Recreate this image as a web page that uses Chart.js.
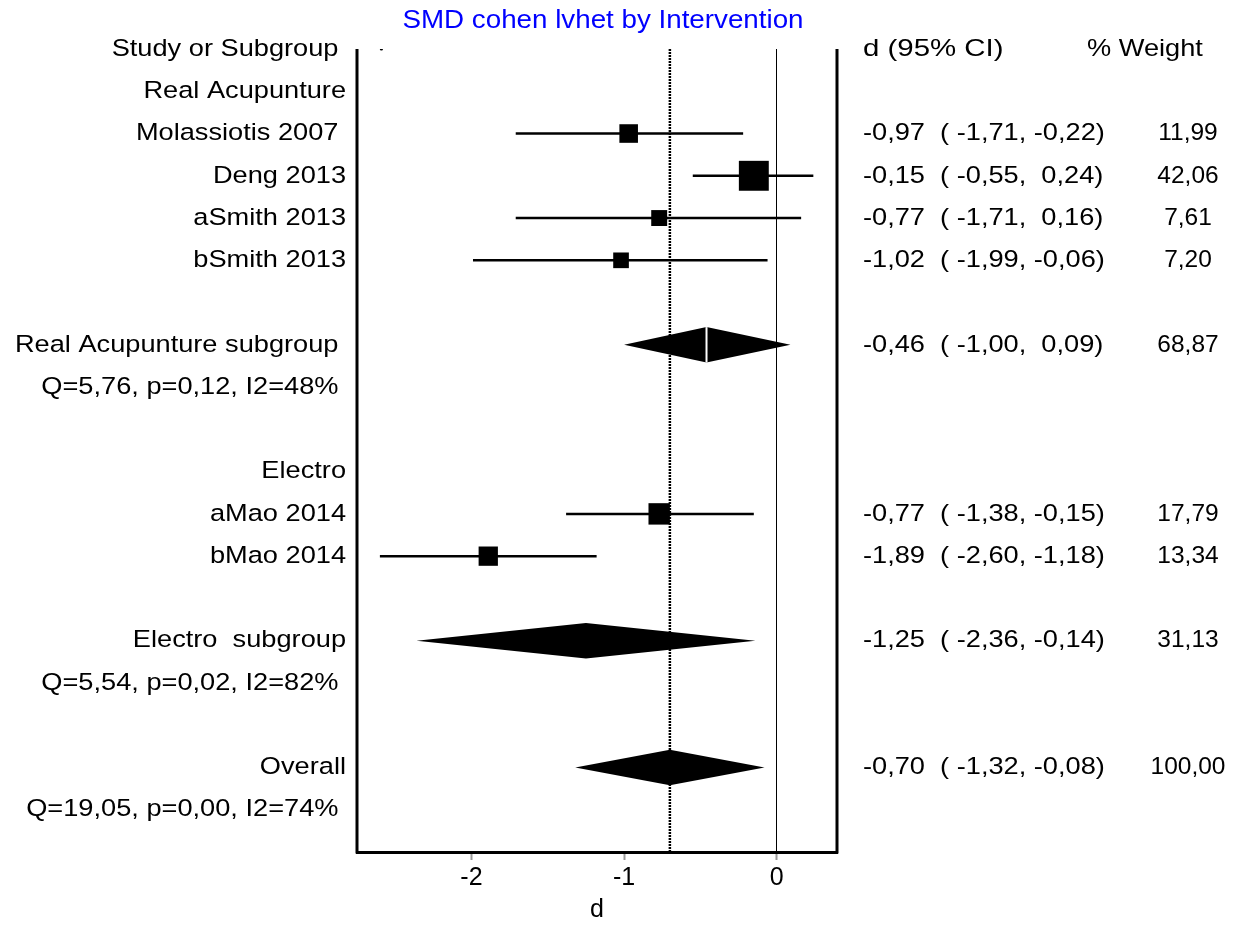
<!DOCTYPE html>
<html>
<head>
<meta charset="utf-8">
<title>SMD cohen lvhet by Intervention</title>
<script src="https://cdn.jsdelivr.net/npm/chart.js@4/dist/chart.umd.min.js"></script>
<style>
  html,body{margin:0;padding:0;background:#fff;}
  canvas{display:block;}
</style>
</head>
<body>
<canvas id="forest" width="1234" height="925"></canvas>
<script>
/* ===== DATA ===== */
const studyNames=["Molassiotis 2007 ","Deng 2013","aSmith 2013","bSmith 2013","aMao 2014","bMao 2014"];
const studyRows=[2,3,4,5,11,12];
const studyEst=[-0.97,-0.15,-0.77,-1.02,-0.77,-1.89];
const studyLow=[-1.71,-0.55,-1.71,-1.99,-1.38,-2.60];
const studyHigh=[-0.22,0.24,0.16,-0.06,-0.15,-1.18];
const studyWeight=[11.99,42.06,7.61,7.20,17.79,13.34];

const poolNames=["Real Acupunture subgroup ","Electro  subgroup","Overall"];
const poolRows=[7,14,17];
const poolEst=[-0.46,-1.25,-0.70];
const poolLow=[-1.00,-2.36,-1.32];
const poolHigh=[0.09,-0.14,-0.08];
const poolWeight=[68.87,31.13,100.00];

const hetText=["Q=5,76, p=0,12, I2=48% ","Q=5,54, p=0,02, I2=82% ","Q=19,05, p=0,00, I2=74% "];
const hetRows=[8,15,18];

const groupNames=["Real Acupunture","Electro"];
const groupRows=[1,10];

const headerMark=[{x:-2.59,y:0}];
const xTicks=[-2,-1,0];

/* ===== STYLE ===== */
const FONT='"Liberation Sans", Arial, sans-serif';
const SX=1.11;          // text is drawn a little wide
const SX_W=1.0;         // weight column
const LABEL_RIGHT=346;
const CI_LEFT=863;
const WEIGHT_CENTER=1188;

function fmt(v){return v.toFixed(2).replace(".",",")}
function pad(v){return (v<0?"":" ")+fmt(v)}
function ciText(e,l,h){return fmt(e)+"  ( "+pad(l)+", "+pad(h)+")"}

function wideText(ctx,t,x,y,align,sx){
  ctx.save();
  ctx.translate(x,y);
  ctx.scale(sx||SX,1);
  ctx.textAlign=align;
  ctx.textBaseline="middle";
  ctx.fillText(t,0,0);
  ctx.restore();
}

/* ===== PLUGINS ===== */
const forestBack={
  id:"forestBack",
  beforeDatasetsDraw(chart){
    const {ctx,chartArea:a,scales:{x,y}}=chart;
    ctx.save();
    // overall estimate, dotted
    const px=x.getPixelForValue(poolEst[2]);
    ctx.strokeStyle="#000";
    ctx.lineWidth=2.5;
    ctx.setLineDash([2,1]);
    ctx.beginPath();ctx.moveTo(px,a.top);ctx.lineTo(px,a.bottom);ctx.stroke();
    ctx.setLineDash([]);
    // pooled diamonds
    ctx.fillStyle="#000";
    poolRows.forEach((r,i)=>{
      ctx.beginPath();
      ctx.moveTo(x.getPixelForValue(poolLow[i]),y.getPixelForValue(r));
      ctx.lineTo(x.getPixelForValue(poolEst[i]),y.getPixelForValue(r-0.42));
      ctx.lineTo(x.getPixelForValue(poolHigh[i]),y.getPixelForValue(r));
      ctx.lineTo(x.getPixelForValue(poolEst[i]),y.getPixelForValue(r+0.42));
      ctx.closePath();
      ctx.fill();
    });
    // split mark in the first subgroup diamond
    const sx=x.getPixelForValue(poolEst[0]);
    ctx.strokeStyle="#fff";
    ctx.lineWidth=2;
    ctx.beginPath();
    ctx.moveTo(sx,y.getPixelForValue(poolRows[0]-0.42));
    ctx.lineTo(sx,y.getPixelForValue(poolRows[0]+0.42));
    ctx.stroke();
    ctx.restore();
  },
  afterDraw(chart){
    const {ctx,chartArea:a,scales:{y}}=chart;
    ctx.save();
    // frame sides
    ctx.strokeStyle="#000";
    ctx.lineWidth=3;
    ctx.beginPath();
    ctx.moveTo(a.left,a.top);ctx.lineTo(a.left,a.bottom+1.5);
    ctx.moveTo(a.right,a.top);ctx.lineTo(a.right,a.bottom+1.5);
    ctx.stroke();

    // title
    ctx.fillStyle="#0000ff";
    ctx.font="25px "+FONT;
    wideText(ctx,"SMD cohen lvhet by Intervention",603,21,"center");

    ctx.fillStyle="#000";
    ctx.font="24.5px "+FONT;
    const rowY=r=>y.getPixelForValue(r);
    // headers
    wideText(ctx,"Study or Subgroup ",LABEL_RIGHT,rowY(0),"right");
    wideText(ctx,"d (95% CI)",CI_LEFT,rowY(0),"left",1.2);
    wideText(ctx,"% Weight",1087,rowY(0),"left");
    // left labels
    groupNames.forEach((t,i)=>wideText(ctx,t,LABEL_RIGHT,rowY(groupRows[i]),"right"));
    studyNames.forEach((t,i)=>wideText(ctx,t,LABEL_RIGHT,rowY(studyRows[i]),"right"));
    poolNames.forEach((t,i)=>wideText(ctx,t,LABEL_RIGHT,rowY(poolRows[i]),"right"));
    hetText.forEach((t,i)=>wideText(ctx,t,LABEL_RIGHT,rowY(hetRows[i]),"right"));
    // right columns
    studyRows.forEach((r,i)=>{
      wideText(ctx,ciText(studyEst[i],studyLow[i],studyHigh[i]),CI_LEFT,rowY(r),"left");
      wideText(ctx,fmt(studyWeight[i]),WEIGHT_CENTER,rowY(r),"center",SX_W);
    });
    poolRows.forEach((r,i)=>{
      wideText(ctx,ciText(poolEst[i],poolLow[i],poolHigh[i]),CI_LEFT,rowY(r),"left");
      wideText(ctx,fmt(poolWeight[i]),WEIGHT_CENTER,rowY(r),"center",SX_W);
    });
    ctx.restore();
  }
};

/* ===== DATASETS ===== */
// square side grows with the square root of the study weight
const squareSide=w=>5.6+3.75*Math.sqrt(w);

const squares={
  data:studyRows.map((r,i)=>({x:studyEst[i],y:r})),
  pointStyle:"rect",
  backgroundColor:"#000",
  borderWidth:0,
  pointRadius:c=>squareSide(studyWeight[c.dataIndex])/Math.SQRT2,
  showLine:false
};
const mark={
  data:headerMark,
  pointStyle:"circle",
  backgroundColor:"#000",
  borderWidth:0,
  pointRadius:1.6,
  showLine:false
};
const whiskers=studyRows.map((r,i)=>({
  data:[{x:studyLow[i],y:r},{x:studyHigh[i],y:r}],
  showLine:true,
  borderColor:"#000",
  borderWidth:2.5,
  pointRadius:0
}));

/* ===== CHART ===== */
new Chart(document.getElementById("forest"),{
  type:"scatter",
  data:{datasets:[squares,mark,...whiskers]},
  options:{
    responsive:false,
    animation:false,
    devicePixelRatio:1,
    layout:{padding:{left:357,right:397,top:49,bottom:0}},
    plugins:{legend:{display:false},tooltip:{enabled:false},title:{display:false}},
    scales:{
      x:{
        type:"linear",
        position:"bottom",
        min:-2.75,
        max:0.395,
        afterBuildTicks:s=>{s.ticks=xTicks.map(v=>({value:v}))},
        afterFit:s=>{s.height=73},
        ticks:{color:"#000",padding:3,font:{family:FONT,size:25}},
        grid:{
          color:c=>(c.tick&&c.tick.value===0)?"#000":"rgba(0,0,0,0)",
          lineWidth:1,
          tickColor:"#999",
          tickWidth:2,
          tickLength:8
        },
        border:{display:true,color:"#000",width:3},
        title:{display:true,text:"d",color:"#000",padding:0,font:{family:FONT,size:25}}
      },
      y:{type:"linear",min:0,max:19,reverse:true,display:false}
    }
  },
  plugins:[forestBack]
});
</script>
</body>
</html>
